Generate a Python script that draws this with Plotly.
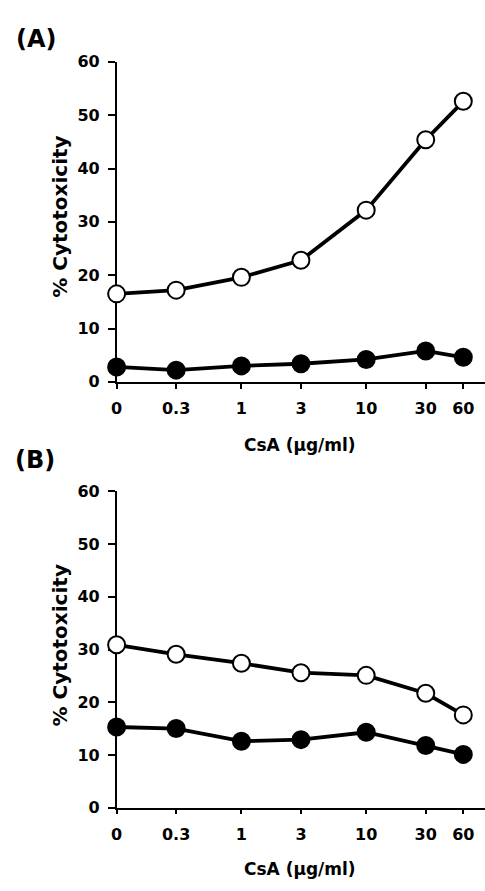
import plotly.graph_objects as go

# ---- data ----
dose_labels = ["0", "0.3", "1", "3", "10", "30", "60"]
dose_plot = [0.1, 0.3, 1, 3, 10, 30, 60]   # "0" drawn one half-decade left of 0.3 on the log axis

a_open = [16.5, 17.2, 19.6, 22.8, 32.2, 45.4, 52.6]
a_filled = [2.8, 2.2, 3.0, 3.4, 4.2, 5.8, 4.6]

b_open = [30.9, 29.1, 27.4, 25.6, 25.1, 21.7, 17.6]
b_filled = [15.3, 15.0, 12.6, 12.9, 14.3, 11.8, 10.1]

y_ticks = [0, 10, 20, 30, 40, 50, 60]
panel_labels = ["(A)", "(B)"]
y_title = "% Cytotoxicity"
x_title = "CsA (\u03bcg/ml)"

W, H = 485, 891
FONT = "DejaVu Sans"


def px(x):
    return x / W


def py(y):
    return 1 - y / H


fig = go.Figure()

for axn, (op, fi) in zip(["", "2"], [(a_open, a_filled), (b_open, b_filled)]):
    for vals, fill in [(fi, "black"), (op, "white")]:
        fig.add_trace(go.Scatter(
            x=dose_plot, y=vals, mode="lines+markers",
            xaxis="x" + axn, yaxis="y" + axn,
            line=dict(color="black", width=3.8),
            marker=dict(size=17, color=fill, line=dict(color="black", width=2)),
            cliponaxis=False, showlegend=False, hoverinfo="skip",
        ))

xcommon = dict(
    type="log", range=[-1, 1.952], domain=[px(112), 1],
    tickvals=dose_plot, ticktext=dose_labels,
    showline=True, linecolor="black", linewidth=1.5,
    ticks="outside", ticklen=5, tickwidth=1.5, tickcolor="black",
    ticklabelstandoff=6,
    showgrid=False, zeroline=False, layer="below traces",
    tickfont=dict(family=FONT, size=16, color="black", weight="bold"),
    fixedrange=True,
)
ycommon = dict(
    range=[0, 60], tickvals=y_ticks,
    showline=True, linecolor="black", linewidth=1.5,
    ticks="outside", ticklen=7, tickwidth=1.5, tickcolor="black",
    ticklabelstandoff=5,
    showgrid=False, zeroline=False, layer="below traces",
    tickfont=dict(family=FONT, size=16, color="black", weight="bold"),
    fixedrange=True,
)

fig.update_layout(
    width=W, height=H,
    margin=dict(l=0, r=0, t=0, b=0),
    paper_bgcolor="white", plot_bgcolor="white",
    xaxis=dict(xcommon, anchor="y"),
    yaxis=dict(ycommon, domain=[py(381), py(54)], anchor="x"),
    xaxis2=dict(xcommon, anchor="y2"),
    yaxis2=dict(ycommon, domain=[py(816), py(493)], anchor="x2"),
)

ann = []
# panel labels
for lab, (x, y) in zip(panel_labels, [(31, 31), (29, 461)]):
    ann.append(dict(text=lab, x=px(x), y=py(y), xref="paper", yref="paper",
                    showarrow=False, xanchor="center", yanchor="middle",
                    font=dict(family=FONT, size=24, color="black", weight="bold")))
# y titles
for yc in [212, 650]:
    ann.append(dict(text=y_title, x=px(55), y=py(yc), xref="paper", yref="paper",
                    showarrow=False, textangle=-90, xanchor="center", yanchor="middle",
                    font=dict(family=FONT, size=20, color="black", weight="bold")))
# x titles
for yc in [446, 879]:
    ann.append(dict(text=x_title, x=px(298), y=py(yc), xref="paper", yref="paper",
                    showarrow=False, xanchor="center", yanchor="middle",
                    font=dict(family=FONT, size=17, color="black", weight="bold")))
fig.update_layout(annotations=ann)

fig.write_html("out.html")
